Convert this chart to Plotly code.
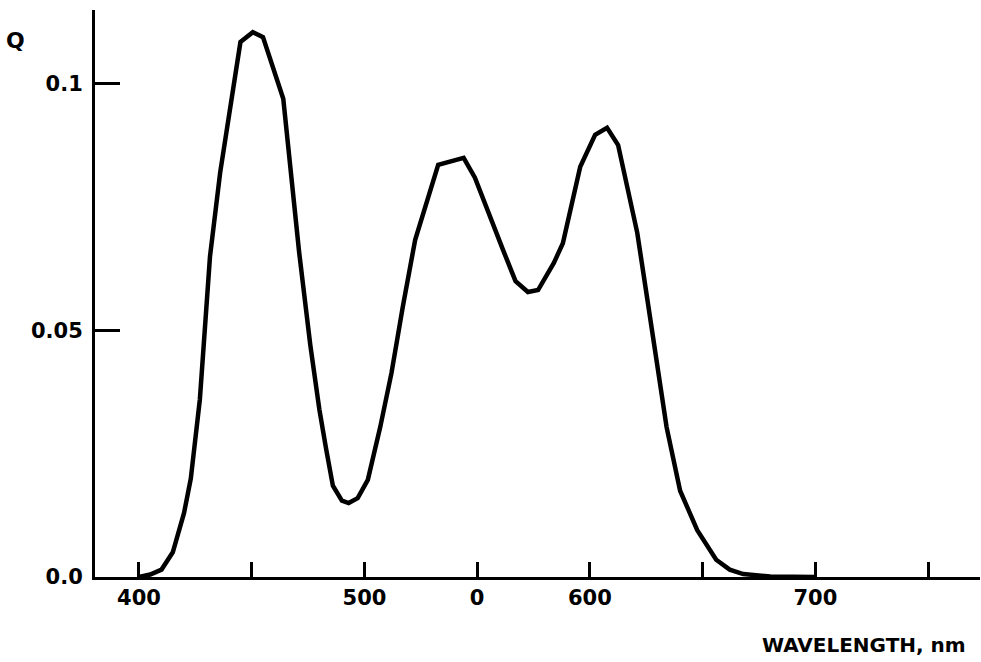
import plotly.graph_objects as go

wavelength = [400, 405, 410, 415, 420, 423, 427, 429, 431.5, 436, 440.5, 445, 450.5, 455,
              464, 468, 471, 476, 480, 483, 486, 490, 493, 497, 501.5, 507, 512, 517,
              522.5, 532.7, 544, 549, 554.4, 561.5, 567, 572.5, 577, 584, 588, 592,
              595.7, 602.3, 607.6, 612.5, 621, 625.4, 630, 634, 640, 647.6, 656, 662,
              668, 680, 700]
q_values = [0.0, 0.0005, 0.0015, 0.005, 0.013, 0.020, 0.036, 0.050, 0.065, 0.082, 0.096,
            0.1085, 0.1105, 0.1095, 0.097, 0.078, 0.066, 0.047, 0.034, 0.026, 0.0185,
            0.0155, 0.015, 0.016, 0.0197, 0.0304, 0.0414, 0.0548, 0.0684, 0.0836, 0.085,
            0.081, 0.0744, 0.0663, 0.060, 0.0578, 0.0582, 0.0637, 0.0677, 0.076, 0.0832,
            0.0897, 0.0911, 0.0876, 0.0698, 0.0565, 0.0426, 0.0304, 0.0175, 0.0095,
            0.0035, 0.0015, 0.0006, 0.0001, 0.0]

x_tick_vals = [400, 450, 500, 550, 600, 650, 700, 750]
x_tick_text = ["400", "", "500", "0", "600", "", "700", ""]
y_tick_vals = [0.0, 0.05, 0.1]
y_tick_text = ["0.0", "0.05", "0.1"]

FONT = "DejaVu Sans"

fig = go.Figure()
fig.add_trace(go.Scatter(x=wavelength, y=q_values, mode="lines",
                         line=dict(color="black", width=4.5), hoverinfo="skip",
                         showlegend=False))

fig.update_layout(
    width=981, height=662,
    margin=dict(l=95, r=1, t=10, b=85),
    paper_bgcolor="white", plot_bgcolor="white",
    font=dict(family=FONT, size=21, color="black", weight="bold"),
    xaxis=dict(range=[380.5, 773], showgrid=False, zeroline=False,
               showline=True, linecolor="black", linewidth=3,
               ticks="inside", ticklen=15, tickwidth=3, tickcolor="black",
               tickvals=x_tick_vals, ticktext=x_tick_text,
               tickfont=dict(family=FONT, size=21, color="black", weight="bold")),
    yaxis=dict(range=[0, 0.115], showgrid=False, zeroline=False,
               showline=True, linecolor="black", linewidth=3,
               ticks="inside", ticklen=25, tickwidth=3, tickcolor="black",
               ticklabelstandoff=5,
               tickvals=y_tick_vals, ticktext=y_tick_text,
               tickfont=dict(family=FONT, size=21, color="black", weight="bold")),
    annotations=[
        dict(text="Q", xref="paper", yref="paper", x=-0.09, y=0.947,
             xanchor="center", yanchor="middle", showarrow=False,
             font=dict(family=FONT, size=22, color="black", weight="bold")),
        dict(text="WAVELENGTH, nm", xref="paper", yref="paper", x=0.987, y=-0.12,
             xanchor="right", yanchor="middle", showarrow=False,
             font=dict(family=FONT, size=20, color="black", weight="bold")),
    ],
)

fig.write_html("out.html",
               config={"displayModeBar": False},
               post_script="document.body.style.margin='0px';document.body.style.overflow='hidden';")
